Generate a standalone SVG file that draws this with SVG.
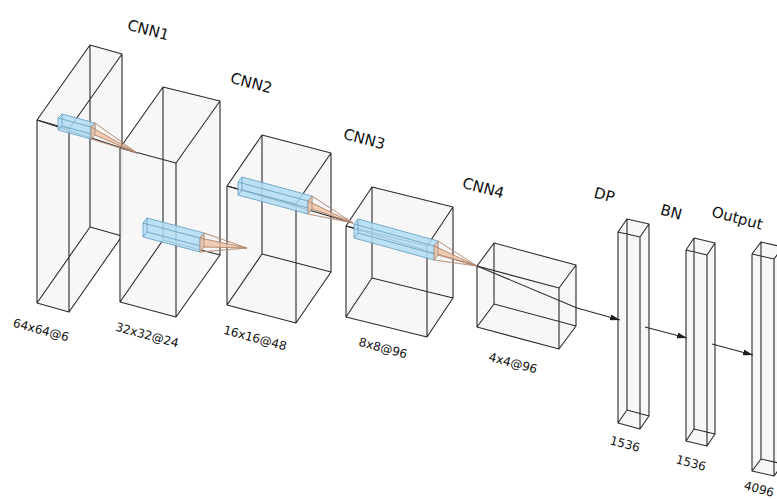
<svg xmlns="http://www.w3.org/2000/svg" width="777" height="499" viewBox="0 0 777 499">
<defs>
<style>
.face{fill:#f6f6f6;fill-opacity:0.9;stroke:none}
.edge{fill:none;stroke:#2b2b2b;stroke-width:1.1;stroke-linejoin:round}
.kbar{fill:#b3ddf3;fill-opacity:0.85;stroke:none}
.kedge{fill:none;stroke:#6aa3c4;stroke-width:0.9}
.pyr{fill:#edc0a4;fill-opacity:0.8;stroke:#b3866c;stroke-width:0.6}
.link{fill:none;stroke:#2b2b2b;stroke-width:1.1}
.arrow{fill:none;stroke:#2b2b2b;stroke-width:1.2;marker-end:url(#ah)}
.title{font-family:"DejaVu Sans",sans-serif;font-size:15px;fill:#111;text-anchor:middle}
.lbl{font-family:"DejaVu Sans",sans-serif;font-size:12px;fill:#111;text-anchor:middle}
</style>
<marker id="ah" markerUnits="userSpaceOnUse" markerWidth="10" markerHeight="6" refX="10" refY="3" orient="auto">
<path d="M0,0 L10,3 L0,6 Z" fill="#1e1e1e"/>
</marker>
</defs>
<rect width="777" height="499" fill="#ffffff"/>

<g id="cnn1">
<path class="face" d="M37,303 L37,120 L90,45 L122,54 L122,236 L69,312 Z"/>
<path class="edge" d="M37,120 L69,129 L69,312 L37,303 Z M90,45 L122,54 L122,236 L90,227 Z M37,120 L90,45 M69,129 L122,54 M69,312 L122,236 M37,303 L90,227"/>
<text class="title" transform="rotate(15 147 35)" x="147" y="35">CNN1</text>
<text class="lbl" transform="rotate(15 40 334)" x="40" y="334">64x64@6</text>
</g>

<g id="cnn2">
<path class="face" d="M120,302 L120,148 L163,87 L220,101 L220,255 L176,317 Z"/>
<path class="edge" d="M120,148 L176,163 L176,317 L120,302 Z M163,87 L220,101 L220,255 L163,240 Z M120,148 L163,87 M176,163 L220,101 M176,317 L220,255 M120,302 L163,240"/>
<text class="title" transform="rotate(15 250 88)" x="250" y="88">CNN2</text>
<text class="lbl" transform="rotate(15 146 339)" x="146" y="339">32x32@24</text>
</g>

<g id="cnn3">
<path class="face" d="M227,305 L227,186 L262,135 L331,153 L331,272 L296,323 Z"/>
<path class="edge" d="M227,186 L296,204 L296,323 L227,305 Z M262,135 L331,153 L331,272 L262,254 Z M227,186 L262,135 M296,204 L331,153 M296,323 L331,272 M227,305 L262,254"/>
<text class="title" transform="rotate(15 363 144)" x="363" y="144">CNN3</text>
<text class="lbl" transform="rotate(15 254 342)" x="254" y="342">16x16@48</text>
</g>

<g id="cnn4">
<path class="face" d="M346,317 L346,226 L372,187 L453,207 L453,298 L427,337 Z"/>
<path class="edge" d="M346,226 L427,246 L427,337 L346,317 Z M372,187 L453,207 L453,298 L372,278 Z M346,226 L372,187 M427,246 L453,207 M427,337 L453,298 M346,317 L372,278"/>
<text class="title" transform="rotate(15 482 193)" x="482" y="193">CNN4</text>
<text class="lbl" transform="rotate(15 382 352)" x="382" y="352">8x8@96</text>
</g>

<g id="pool4">
<path class="face" d="M477,327 L477,266 L494,243 L576,265 L576,326 L559,349 Z"/>
<path class="edge" d="M477,266 L559,288 L559,349 L477,327 Z M494,243 L576,265 L576,326 L494,304 Z M477,266 L494,243 M559,288 L576,265 M559,349 L576,326 M477,327 L494,304"/>
<text class="lbl" transform="rotate(15 512 367)" x="512" y="367">4x4@96</text>
</g>

<g id="dp">
<path class="face" d="M618,423 L618,232 L627,219 L649,224 L649,416 L640,429 Z"/>
<path class="edge" d="M618,232 L640,237 L640,429 L618,423 Z M627,219 L649,224 L649,416 L627,410 Z M618,232 L627,219 M640,237 L649,224 M640,429 L649,416 M618,423 L627,410"/>
<text class="title" transform="rotate(15 603 200)" x="603" y="200">DP</text>
<text class="lbl" transform="rotate(15 624 448)" x="624" y="448">1536</text>
</g>

<g id="bn">
<path class="face" d="M686,441 L686,250 L694,238 L715,243 L715,434 L707,446 Z"/>
<path class="edge" d="M686,250 L707,255 L707,446 L686,441 Z M694,238 L715,243 L715,434 L694,429 Z M686,250 L694,238 M707,255 L715,243 M707,446 L715,434 M686,441 L694,429"/>
<text class="title" transform="rotate(15 670 217)" x="670" y="217">BN</text>
<text class="lbl" transform="rotate(15 690 467)" x="690" y="467">1536</text>
</g>

<g id="output">
<path class="face" d="M752,471 L752,254 L761,242 L783,247 L783,464 L774,476 Z"/>
<path class="edge" d="M752,254 L774,259 L774,476 L752,471 Z M761,242 L783,247 L783,464 L761,459 Z M752,254 L761,242 M774,259 L783,247 M774,476 L783,464 M752,471 L761,459"/>
<text class="title" transform="rotate(15 736 223)" x="736" y="223">Output</text>
<text class="lbl" transform="rotate(15 758 493)" x="758" y="493">4096</text>
</g>

<g id="connectors">
<path class="link" d="M37,120 L137,153 M227,186 L353,223 M346,226 L477,266 M477,266 L577,308"/>
<path class="kbar" d="M58,130 L58,118 L62,114 L95,123 L95,135 L91,139 Z"/>
<path class="kedge" d="M58,118 L91,127 L91,139 L58,130 Z M62,114 L95,123 L95,135 L62,126 Z M58,118 L62,114 M91,127 L95,123 M91,139 L95,135 M58,130 L62,126"/>
<path class="pyr" d="M91,127 L95,123 L137,153 Z M95,123 L95,135 L137,153 Z M91,139 L95,135 L137,153 Z M91,127 L91,139 L137,153 Z"/>
<path class="kbar" d="M143,237 L143,223 L147,218 L204,233 L204,247 L200,252 Z"/>
<path class="kedge" d="M143,223 L200,238 L200,252 L143,237 Z M147,218 L204,233 L204,247 L147,232 Z M143,223 L147,218 M200,238 L204,233 M200,252 L204,247 M143,237 L147,232"/>
<path class="pyr" d="M200,238 L204,233 L247,248 Z M204,233 L204,247 L247,248 Z M200,252 L204,247 L247,248 Z M200,238 L200,252 L247,248 Z"/>
<path class="kbar" d="M238,195 L238,182 L242,177 L312,196 L312,209 L308,214 Z"/>
<path class="kedge" d="M238,182 L308,201 L308,214 L238,195 Z M242,177 L312,196 L312,209 L242,190 Z M238,182 L242,177 M308,201 L312,196 M308,214 L312,209 M238,195 L242,190"/>
<path class="pyr" d="M308,201 L312,196 L353,223 Z M312,196 L312,209 L353,223 Z M308,214 L312,209 L353,223 Z M308,201 L308,214 L353,223 Z"/>
<path class="kbar" d="M354,238 L354,224 L358,219 L438,241 L438,255 L434,260 Z"/>
<path class="kedge" d="M354,224 L434,246 L434,260 L354,238 Z M358,219 L438,241 L438,255 L358,233 Z M354,224 L358,219 M434,246 L438,241 M434,260 L438,255 M354,238 L358,233"/>
<path class="pyr" d="M434,246 L438,241 L477,266 Z M438,241 L438,255 L477,266 Z M434,260 L438,255 L477,266 Z M434,246 L434,260 L477,266 Z"/>
<path class="arrow" d="M577,308 L620,320"/>
<path class="arrow" d="M645,327 L687,338"/>
<path class="arrow" d="M712,344 L753,355"/>
</g>
</svg>
